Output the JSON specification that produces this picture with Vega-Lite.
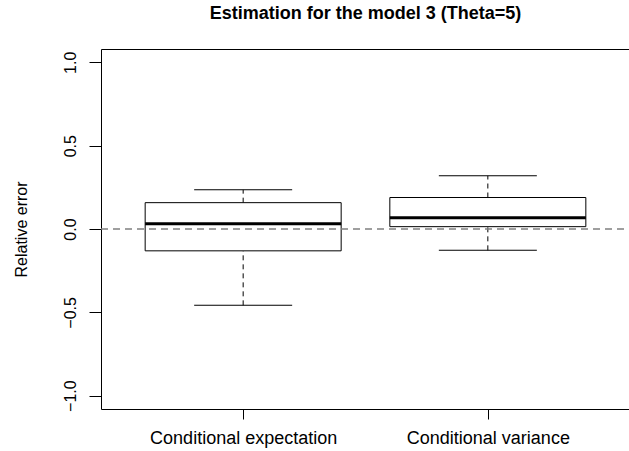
{
  "$schema": "https://vega.github.io/schema/vega-lite/v6.json",
  "width": 529,
  "height": 360,
  "autosize": {"type": "none"},
  "padding": {"left": 101, "top": 49, "right": 0, "bottom": 42},
  "background": "white",
  "title": {
    "text": "Estimation for the model 3 (Theta=5)",
    "font": "Liberation Sans",
    "fontSize": 18,
    "fontWeight": "bold",
    "color": "black",
    "anchor": "middle",
    "baseline": "alphabetic",
    "offset": 12
  },
  "data": {
    "values": [
      {"name": "Conditional expectation", "lower": -0.458, "q1": -0.131, "median": 0.032, "q3": 0.158, "upper": 0.235},
      {"name": "Conditional variance", "lower": -0.128, "q1": 0.014, "median": 0.068, "q3": 0.189, "upper": 0.319}
    ]
  },
  "encoding": {
    "x": {
      "field": "name",
      "type": "nominal",
      "sort": null,
      "scale": {"type": "point", "padding": 0.581},
      "axis": {
        "title": null,
        "labelAngle": 0,
        "labelLimit": 0,
        "domain": false,
        "tickSize": 10,
        "tickColor": "black",
        "labelPadding": 24,
        "labelBaseline": "alphabetic",
        "labelFont": "Liberation Sans",
        "labelFontSize": 18,
        "labelColor": "black"
      }
    }
  },
  "layer": [
    {
      "mark": {"type": "rule", "color": "black", "strokeWidth": 1, "strokeDash": [5, 4]},
      "encoding": {
        "y": {
          "field": "q3",
          "type": "quantitative",
          "scale": {"domain": [-1.08, 1.08], "nice": false, "zero": false},
          "axis": {
            "values": [-1, -0.5, 0, 0.5, 1],
            "format": ".1f",
            "grid": false,
            "domain": false,
            "tickSize": 12,
            "tickColor": "black",
            "labelAngle": -90,
            "labelAlign": "center",
            "labelBaseline": "alphabetic",
            "labelPadding": 14,
            "labelFont": "Liberation Sans",
            "labelFontSize": 16,
            "labelColor": "black",
            "title": "Relative error",
            "titleFont": "Liberation Sans",
            "titleFontSize": 16,
            "titleFontWeight": "normal",
            "titleColor": "black",
            "titleAngle": -90,
            "titleAlign": "center",
            "titleBaseline": "alphabetic",
            "titleX": -75,
            "titleY": 180
          }
        },
        "y2": {"field": "upper"}
      }
    },
    {
      "mark": {"type": "rule", "color": "black", "strokeWidth": 1, "strokeDash": [5, 4]},
      "encoding": {
        "y": {"field": "lower", "type": "quantitative"},
        "y2": {"field": "q1"}
      }
    },
    {
      "mark": {"type": "tick", "color": "black", "size": 98, "thickness": 1},
      "encoding": {"y": {"field": "upper", "type": "quantitative"}}
    },
    {
      "mark": {"type": "tick", "color": "black", "size": 98, "thickness": 1},
      "encoding": {"y": {"field": "lower", "type": "quantitative"}}
    },
    {
      "mark": {"type": "bar", "fill": "white", "stroke": "black", "strokeWidth": 1, "size": 196},
      "encoding": {
        "y": {"field": "q1", "type": "quantitative"},
        "y2": {"field": "q3"}
      }
    },
    {
      "mark": {"type": "tick", "color": "black", "opacity": 1, "size": 196, "thickness": 3},
      "encoding": {"y": {"field": "median", "type": "quantitative"}}
    },
    {
      "mark": {"type": "rule", "color": "#808080", "strokeWidth": 1.2, "strokeDash": [7, 5]},
      "encoding": {"y": {"datum": 0, "type": "quantitative"}, "x": {"value": 0}, "x2": {"value": 529}}
    }
  ],
  "config": {
    "view": {"stroke": "black", "strokeWidth": 1},
    "axis": {"grid": false},
    "tick": {"opacity": 1}
  }
}
